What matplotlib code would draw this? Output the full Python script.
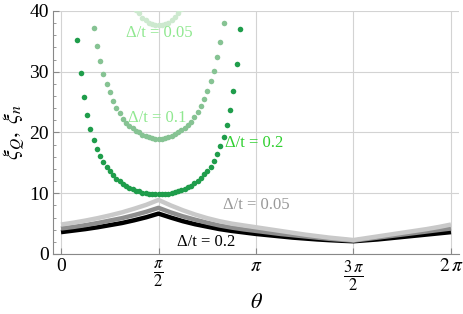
import numpy as np
import matplotlib
matplotlib.use("Agg")
from matplotlib import pyplot as plt
from matplotlib.ticker import MultipleLocator

plt.rcParams['font.family'] = ['Liberation Serif', 'DejaVu Serif']
plt.rcParams['mathtext.fontset'] = 'stix'

# xi_n curves, sampled at theta = k*pi/16, k = 0..32
theta_n = np.arange(33) * np.pi / 16
xi_n_02 = [3.6, 3.85, 4.1, 4.4, 4.75, 5.1, 5.55, 6.05, 6.65,
           6.0, 5.4, 4.9, 4.5, 4.1, 3.8, 3.55, 3.3,
           3.1, 2.9, 2.7, 2.55, 2.4, 2.28, 2.18, 2.1,
           2.25, 2.4, 2.6, 2.8, 3.0, 3.2, 3.4, 3.6]
xi_n_01 = [4.2, 4.45, 4.75, 5.1, 5.5, 5.9, 6.4, 6.95, 7.6,
           6.85, 6.2, 5.65, 5.15, 4.7, 4.35, 4.05, 3.8,
           3.55, 3.3, 3.1, 2.9, 2.7, 2.5, 2.35, 2.2,
           2.45, 2.7, 2.95, 3.2, 3.45, 3.7, 3.95, 4.2]
xi_n_005 = [4.85, 5.15, 5.5, 5.9, 6.35, 6.85, 7.45, 8.1, 8.9,
            8.0, 7.2, 6.5, 5.9, 5.4, 5.0, 4.7, 4.4,
            4.1, 3.8, 3.5, 3.2, 2.95, 2.7, 2.5, 2.3,
            2.6, 2.9, 3.2, 3.5, 3.8, 4.1, 4.45, 4.85]

# xi_Q curves, dots at theta = k*pi/60
theta_q_02 = np.arange(5, 56) * np.pi / 60
xi_q_02 = [35.2, 29.8, 25.8, 22.9, 20.6, 18.8, 17.3, 16.1, 15.1, 14.3,
           13.6, 13.0, 12.4, 12.0, 11.6, 11.2, 10.9, 10.7, 10.45, 10.3,
           10.1, 10.0, 9.9, 9.85, 9.81, 9.8,
           9.82, 9.85, 9.9, 10.0, 10.15, 10.3, 10.5, 10.7, 10.95, 11.25,
           11.65, 12.05, 12.5, 13.1, 13.7, 14.4, 15.3, 16.4, 17.7, 19.2,
           21.2, 23.7, 26.9, 31.2, 37.1]
theta_q_01 = np.arange(10, 51) * np.pi / 60
xi_q_01 = [37.2, 34.2, 31.8, 29.7, 28.0, 26.6, 25.2, 24.1, 23.2, 22.3,
           21.6, 21.1, 20.7, 20.3, 20.0, 19.6, 19.4, 19.2, 19.1, 19.0, 19.0,
           19.0, 19.1, 19.2, 19.4, 19.7, 20.0, 20.4, 20.8, 21.3, 21.8,
           22.5, 23.4, 24.4, 25.5, 26.9, 28.4, 30.2, 32.4, 34.9, 38.1]
theta_q_005 = np.arange(23, 38) * np.pi / 60
xi_q_005 = [40.2, 39.6, 38.9, 38.5, 38.1, 37.9, 37.75, 37.7,
            37.75, 37.9, 38.1, 38.5, 39.0, 39.6, 40.3]

xticks = [0, np.pi / 2, np.pi, 3 * np.pi / 2, 2 * np.pi]
xtick_labels = ['0', r'$\frac{\pi}{2}$', r'$\pi$', r'$\frac{3\,\pi}{2}$', r'$2\,\pi$']

fig = plt.figure(figsize=(4.63, 3.14), dpi=100)
ax = fig.add_axes([53 / 463, 60 / 314, 406 / 463, 243 / 314])

ax.plot(theta_n, xi_n_02, color='black', lw=3.2, solid_capstyle='butt', zorder=3)
ax.plot(theta_n, xi_n_01, color='#8e8e8e', lw=3.2, solid_capstyle='butt', zorder=3)
ax.plot(theta_n, xi_n_005, color='#c9c9c9', lw=3.2, solid_capstyle='butt', zorder=3)

ax.plot(theta_q_005, xi_q_005, 'o', color='#cde9cf', ms=4, mew=0, zorder=3)
ax.plot(theta_q_01, xi_q_01, 'o', color='#86c393', ms=4, mew=0, zorder=3)
ax.plot(theta_q_02, xi_q_02, 'o', color='#1f9d4b', ms=4, mew=0, zorder=3)

lab = dict(fontsize=12, ha='center', va='center')
ax.text(1.58, 36.4, 'Δ/t = 0.05', color='#90e890', **lab)
ax.text(1.55, 22.4, 'Δ/t = 0.1', color='#90e890', **lab)
ax.text(3.11, 18.2, 'Δ/t = 0.2', color='#30d030', **lab)
ax.text(3.14, 8.1, 'Δ/t = 0.05', color='#999999', **lab)
ax.text(2.34, 2.0, 'Δ/t = 0.2', color='black', **lab)

ax.set_xlim(-0.129, 2 * np.pi + 0.129)
ax.set_ylim(0, 40)
ax.set_xticks(xticks)
ax.set_xticklabels(xtick_labels, va='top')
ax.yaxis.set_major_locator(MultipleLocator(10))
ax.yaxis.set_minor_locator(MultipleLocator(2))
ax.tick_params(axis='both', which='major', direction='in', length=4, color='#888888',
               labelsize=14, pad=3)
ax.tick_params(axis='y', which='minor', direction='in', length=2, color='#888888')
for t in ax.get_xticklabels():
    if 'frac' in t.get_text():
        t.set_fontsize(17)
ax.grid(True, which='major', color='#d3d3d3', lw=0.8)
ax.set_axisbelow(True)
for s in ['top', 'right']:
    ax.spines[s].set_visible(False)
for s in ['left', 'bottom']:
    ax.spines[s].set_color('#888888')
    ax.spines[s].set_linewidth(0.8)

ax.set_xlabel(r'$\theta$', fontsize=16)
ax.xaxis.set_label_coords(0.5, -0.165)
ax.set_ylabel(r'$\xi_Q,\ \xi_n$', fontsize=16)
ax.yaxis.set_label_coords(-0.065, 0.5)

fig.savefig('out.png', dpi=100)
